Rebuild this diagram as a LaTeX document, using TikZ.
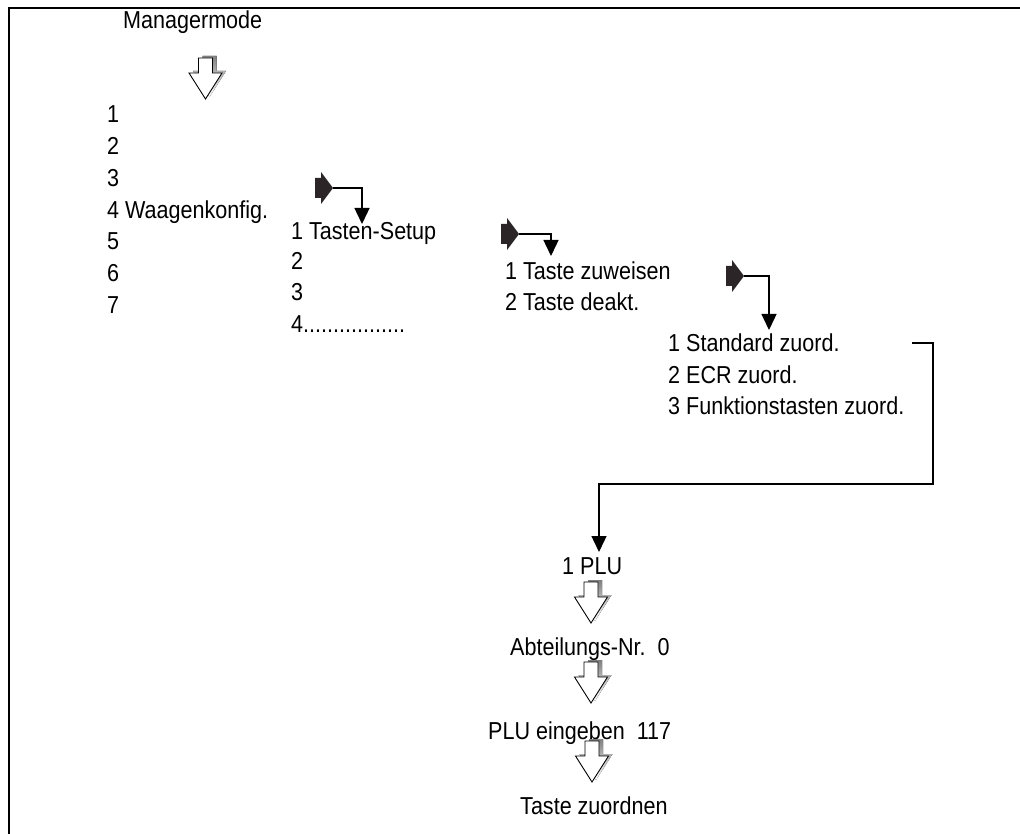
\documentclass[tikz,border=0pt]{standalone}
\usepackage{fontspec}
\setmainfont{Liberation Sans}[FakeStretch=0.88]
\usetikzlibrary{arrows.meta}
\definecolor{blk}{HTML}{2B2527}
\definecolor{shade}{HTML}{A0A0A0}
\tikzset{
  lbl/.style={anchor=base west, inner sep=0pt, font=\fontsize{24.5}{29}\selectfont},
  conn/.style={line width=1.4pt, -{Triangle[width=15pt,length=16pt]}},
  frame/.style={line width=2pt},
  hollow/.pic={
    \fill[shade,xshift=4pt,yshift=2pt] (-7,0) -- (7,0) -- (7,15) -- (16.5,15) -- (0,41) -- (-16.5,15) -- (-7,15) -- cycle;
    \draw[fill=white,line width=0.9pt,line join=miter] (-7,0) -- (7,0) -- (7,15) -- (16.5,15) -- (0,41) -- (-16.5,15) -- (-7,15) -- cycle;
  },
  blockarrow/.pic={
    \fill[blk] (-18,-10) -- (-12,-10) -- (-12,-16) -- (0,0) -- (-12,16) -- (-12,10) -- (-18,10) -- cycle;
  }
}
\begin{document}
\begin{tikzpicture}[x=1pt,y=-1pt]
\useasboundingbox (0,0) rectangle (1020,834);
\draw[frame] (8.5,834) -- (8.5,8.5) -- (1020,8.5);

\node[lbl] (mm) at (123,29) {Managermode};
\pic at (205.5,58) {hollow};

\node[lbl] (c1a) at (107,123) {1};
\node[lbl] (c1b) at (107,155) {2};
\node[lbl] (c1c) at (107,187) {3};
\node[lbl] (c1d) at (107,219) {4 Waagenkonfig.};
\node[lbl] (c1e) at (107,250) {5};
\node[lbl] (c1f) at (107,282) {6};
\node[lbl] (c1g) at (107,313) {7};

\node[lbl] (c2a) at (291,240) {1 Tasten-Setup};
\node[lbl] (c2b) at (291,270) {2};
\node[lbl] (c2c) at (291,301) {3};
\node[lbl] (c2d) at (291,332) {4.................};

\node[lbl] (c3a) at (505,280) {1 Taste zuweisen};
\node[lbl] (c3b) at (505,311) {2 Taste deakt.};

\node[lbl] (c4a) at (668,351) {1 Standard zuord.};
\node[lbl] (c4b) at (668,383) {2 ECR zuord.};
\node[lbl] (c4c) at (668,414) {3 Funktionstasten zuord.};

\node[lbl] (plu) at (562,574) {1 PLU};
\node[lbl] (abt) at (510,655) {Abteilungs-Nr.~~0};
\node[lbl] (ein) at (488,739) {PLU eingeben~~117};
\node[lbl] (zuo) at (520,814) {Taste zuordnen};

\pic at (591,582) {hollow};
\pic at (591,662) {hollow};
\pic at (592,741) {hollow};

\coordinate (p1) at (333,188);
\coordinate (q1) at (362,224);
\coordinate (p2) at (519,234);
\coordinate (q2) at (551,256);
\coordinate (p3) at (744,276);
\coordinate (q3) at (769,330);
\pic at (p1) {blockarrow};
\pic at (p2) {blockarrow};
\pic at (p3) {blockarrow};
\draw[conn] (p1) -| (q1);
\draw[conn] (p2) -| (q2);
\draw[conn] (p3) -| (q3);

\coordinate (s) at (912,343);
\coordinate (b1) at (933,484);
\coordinate (e) at (599,552);
\draw[conn] (s) -| (b1) -| (e);
\end{tikzpicture}
\end{document}
